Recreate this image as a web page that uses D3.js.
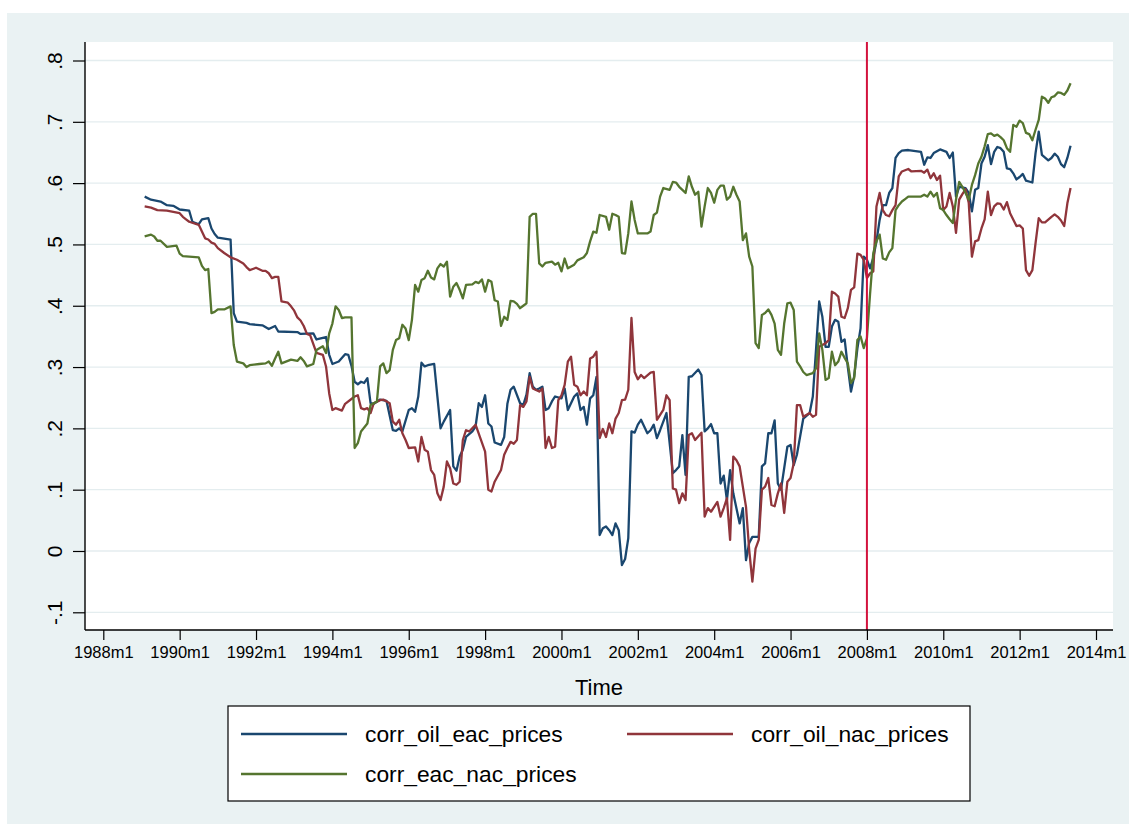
<!DOCTYPE html>
<html>
<head>
<meta charset="utf-8">
<script src="https://cdn.jsdelivr.net/npm/d3@7"></script>
<style>
  body { margin: 0; background: #ffffff; }
  svg { display: block; font-family: "Liberation Sans", Arial, Helvetica, sans-serif; }
</style>
</head>
<body>
<svg id="chart" width="1129" height="829"></svg>
<script>
// ---- data -------------------------------------------------------------
// Monthly rolling correlations, [year, month, value]
const corrOilEac = [
  [1989,2,.578],[1989,4,.573],[1989,7,.570],[1989,9,.564],[1989,11,.563],[1990,1,.557],[1990,4,.555],[1990,5,.537],
  [1990,7,.533],[1990,8,.541],[1990,10,.543],[1990,11,.526],[1990,12,.517],[1991,1,.511],[1991,5,.508],[1991,6,.388],
  [1991,7,.374],[1991,10,.372],[1991,11,.370],[1992,3,.368],[1992,5,.362],[1992,7,.367],[1992,8,.358],[1993,2,.357],
  [1993,3,.354],[1993,7,.355],[1993,8,.345],[1993,11,.349],[1993,12,.320],[1994,1,.305],[1994,3,.309],[1994,5,.321],
  [1994,6,.320],[1994,7,.302],[1994,8,.276],[1994,9,.272],[1994,10,.276],[1994,11,.274],[1994,12,.282],[1995,1,.241],
  [1995,2,.240],[1995,4,.247],[1995,6,.245],[1995,8,.197],[1995,9,.196],[1995,10,.200],[1995,11,.195],[1996,1,.230],
  [1996,2,.233],[1996,3,.227],[1996,4,.252],[1996,5,.307],[1996,6,.301],[1996,7,.303],[1996,9,.305],[1996,10,.252],
  [1996,11,.200],[1996,12,.211],[1997,2,.230],[1997,3,.138],[1997,4,.131],[1997,5,.154],[1997,6,.165],[1997,7,.186],
  [1997,9,.195],[1997,10,.203],[1997,11,.241],[1997,12,.235],[1998,1,.254],[1998,2,.208],[1998,3,.203],[1998,4,.177],
  [1998,6,.173],[1998,7,.186],[1998,8,.240],[1998,9,.263],[1998,10,.268],[1998,12,.241],[1999,1,.238],[1999,2,.255],
  [1999,3,.290],[1999,4,.268],[1999,5,.263],[1999,6,.265],[1999,7,.268],[1999,8,.230],[1999,9,.233],[1999,10,.244],
  [1999,11,.252],[2000,1,.249],[2000,2,.265],[2000,3,.230],[2000,4,.241],[2000,5,.252],[2000,6,.257],[2000,7,.230],
  [2000,8,.235],[2000,9,.206],[2000,10,.249],[2000,11,.254],[2000,12,.284],[2001,1,.026],[2001,2,.037],[2001,3,.040],
  [2001,4,.034],[2001,5,.026],[2001,6,.045],[2001,7,.034],[2001,8,-.023],[2001,9,-.013],[2001,10,.021],[2001,11,.195],
  [2001,12,.193],[2002,1,.206],[2002,2,.214],[2002,4,.192],[2002,5,.197],[2002,6,.206],[2002,7,.184],[2002,8,.197],
  [2002,10,.225],[2002,12,.127],[2003,1,.132],[2003,2,.138],[2003,3,.189],[2003,4,.124],[2003,5,.284],[2003,6,.285],
  [2003,8,.296],[2003,9,.287],[2003,10,.195],[2003,11,.200],[2003,12,.207],[2004,1,.192],[2004,2,.192],[2004,3,.110],
  [2004,4,.123],[2004,5,.083],[2004,6,.132],[2004,7,.094],[2004,9,.045],[2004,10,.070],[2004,11,-.015],[2004,12,.013],
  [2005,1,.023],[2005,3,.023],[2005,4,.138],[2005,5,.143],[2005,6,.192],[2005,7,.192],[2005,8,.213],[2005,9,.110],
  [2005,10,.100],[2005,12,.170],[2006,1,.173],[2006,2,.140],[2006,3,.157],[2006,5,.216],[2006,7,.225],[2006,8,.252],
  [2006,9,.328],[2006,10,.407],[2006,11,.382],[2006,12,.333],[2007,1,.333],[2007,2,.366],[2007,3,.377],[2007,4,.374],
  [2007,5,.341],[2007,6,.345],[2007,7,.300],[2007,8,.260],[2007,9,.285],[2007,10,.330],[2007,11,.363],[2007,12,.480],
  [2008,1,.475],[2008,2,.461],[2008,3,.478],[2008,4,.505],[2008,5,.540],[2008,6,.564],[2008,7,.564],[2008,8,.584],
  [2008,9,.592],[2008,10,.641],[2008,11,.649],[2008,12,.653],[2009,2,.654],[2009,6,.651],[2009,7,.630],[2009,8,.642],
  [2009,9,.641],[2009,10,.649],[2009,12,.655],[2010,2,.651],[2010,3,.641],[2010,4,.650],[2010,5,.578],[2010,6,.594],
  [2010,8,.592],[2010,9,.584],[2010,10,.554],[2010,11,.589],[2010,12,.592],[2011,1,.632],[2011,2,.643],[2011,3,.662],
  [2011,4,.631],[2011,5,.651],[2011,6,.659],[2011,7,.657],[2011,8,.651],[2011,9,.624],[2011,10,.623],[2011,11,.616],
  [2011,12,.606],[2012,1,.610],[2012,2,.615],[2012,3,.604],[2012,5,.601],[2012,6,.649],[2012,7,.684],[2012,8,.646],
  [2012,10,.637],[2012,11,.641],[2012,12,.648],[2013,1,.643],[2013,2,.631],[2013,3,.626],[2013,4,.641],[2013,5,.661]
];

const corrOilNac = [
  [1989,2,.562],[1989,4,.560],[1989,6,.556],[1989,9,.555],[1989,11,.553],[1990,1,.551],[1990,2,.545],[1990,3,.541],
  [1990,4,.537],[1990,7,.532],[1990,8,.521],[1990,9,.510],[1990,10,.508],[1990,11,.503],[1990,12,.501],[1991,1,.494],
  [1991,3,.486],[1991,5,.479],[1991,7,.475],[1991,9,.469],[1991,10,.463],[1991,11,.458],[1991,12,.460],[1992,1,.462],
  [1992,3,.457],[1992,4,.457],[1992,5,.453],[1992,6,.445],[1992,7,.447],[1992,8,.447],[1992,9,.407],[1992,11,.405],
  [1992,12,.399],[1993,1,.392],[1993,2,.381],[1993,3,.376],[1993,4,.367],[1993,5,.354],[1993,6,.352],[1993,8,.323],
  [1993,10,.320],[1993,11,.301],[1993,12,.257],[1994,1,.230],[1994,2,.233],[1994,4,.229],[1994,5,.240],[1994,8,.252],
  [1994,9,.254],[1994,10,.233],[1994,11,.231],[1994,12,.233],[1995,1,.225],[1995,2,.241],[1995,4,.246],[1995,5,.247],
  [1995,7,.241],[1995,8,.211],[1995,9,.206],[1995,10,.214],[1995,11,.192],[1995,12,.181],[1996,1,.168],[1996,3,.169],
  [1996,4,.146],[1996,5,.186],[1996,6,.165],[1996,7,.162],[1996,8,.132],[1996,9,.124],[1996,10,.094],[1996,11,.083],
  [1996,12,.105],[1997,1,.146],[1997,2,.135],[1997,3,.110],[1997,4,.108],[1997,5,.113],[1997,6,.181],[1997,7,.197],
  [1997,8,.195],[1997,10,.206],[1998,1,.162],[1998,2,.100],[1998,3,.097],[1998,4,.113],[1998,6,.132],[1998,7,.157],
  [1998,8,.168],[1998,9,.178],[1998,10,.175],[1998,11,.181],[1998,12,.238],[1999,1,.235],[1999,2,.244],[1999,3,.284],
  [1999,4,.265],[1999,6,.260],[1999,7,.265],[1999,8,.168],[1999,9,.186],[1999,10,.168],[1999,11,.170],[1999,12,.246],
  [2000,1,.254],[2000,2,.271],[2000,3,.309],[2000,4,.317],[2000,5,.271],[2000,6,.268],[2000,7,.254],[2000,8,.260],
  [2000,9,.254],[2000,10,.314],[2000,11,.317],[2000,12,.325],[2001,1,.184],[2001,2,.199],[2001,3,.186],[2001,4,.208],
  [2001,5,.192],[2001,6,.216],[2001,7,.225],[2001,8,.246],[2001,9,.247],[2001,10,.263],[2001,11,.380],[2001,12,.292],
  [2002,1,.280],[2002,2,.287],[2002,3,.282],[2002,5,.291],[2002,6,.292],[2002,7,.214],[2002,8,.222],[2002,9,.230],
  [2002,10,.254],[2002,11,.246],[2002,12,.102],[2003,1,.100],[2003,2,.078],[2003,3,.094],[2003,4,.083],[2003,5,.189],
  [2003,6,.192],[2003,7,.181],[2003,9,.193],[2003,10,.056],[2003,11,.070],[2003,12,.064],[2004,2,.080],[2004,3,.056],
  [2004,4,.070],[2004,5,.086],[2004,6,.018],[2004,7,.154],[2004,8,.148],[2004,9,.138],[2004,10,.105],[2004,11,.072],
  [2004,12,.002],[2005,1,-.050],[2005,2,.004],[2005,3,.018],[2005,4,.100],[2005,5,.105],[2005,6,.119],[2005,7,.075],
  [2005,8,.073],[2005,9,.094],[2005,10,.110],[2005,11,.062],[2005,12,.113],[2006,1,.119],[2006,2,.143],[2006,3,.238],
  [2006,4,.238],[2006,5,.219],[2006,7,.225],[2006,8,.219],[2006,9,.222],[2006,10,.333],[2006,12,.339],[2007,1,.344],
  [2007,2,.423],[2007,3,.420],[2007,4,.415],[2007,5,.382],[2007,6,.380],[2007,7,.396],[2007,8,.426],[2007,9,.430],
  [2007,10,.485],[2007,11,.483],[2007,12,.475],[2008,1,.445],[2008,2,.453],[2008,3,.456],[2008,4,.562],[2008,5,.584],
  [2008,6,.556],[2008,7,.548],[2008,8,.546],[2008,9,.556],[2008,10,.564],[2008,11,.611],[2008,12,.619],[2009,2,.623],
  [2009,3,.619],[2009,6,.620],[2009,7,.617],[2009,8,.622],[2009,9,.608],[2009,10,.616],[2009,11,.605],[2009,12,.612],
  [2010,1,.556],[2010,2,.562],[2010,3,.584],[2010,4,.562],[2010,5,.519],[2010,6,.573],[2010,7,.582],[2010,8,.590],
  [2010,9,.568],[2010,10,.480],[2010,11,.505],[2010,12,.507],[2011,1,.526],[2011,2,.541],[2011,3,.586],[2011,4,.548],
  [2011,5,.562],[2011,6,.567],[2011,7,.566],[2011,8,.557],[2011,9,.569],[2011,10,.551],[2011,12,.530],[2012,1,.531],
  [2012,2,.526],[2012,3,.458],[2012,4,.449],[2012,5,.458],[2012,6,.502],[2012,7,.543],[2012,8,.536],[2012,9,.536],
  [2012,11,.545],[2012,12,.549],[2013,1,.545],[2013,2,.539],[2013,3,.530],[2013,4,.567],[2013,5,.592]
];

const corrEacNac = [
  [1989,2,.513],[1989,4,.516],[1989,5,.513],[1989,6,.506],[1989,7,.506],[1989,9,.496],[1989,12,.498],[1990,1,.485],
  [1990,2,.481],[1990,7,.479],[1990,8,.465],[1990,9,.458],[1990,10,.460],[1990,11,.388],[1990,12,.390],[1991,1,.394],
  [1991,3,.394],[1991,5,.399],[1991,6,.336],[1991,7,.309],[1991,9,.306],[1991,10,.300],[1991,11,.303],[1992,2,.305],
  [1992,4,.306],[1992,5,.309],[1992,6,.302],[1992,7,.314],[1992,8,.325],[1992,9,.306],[1992,12,.312],[1993,2,.310],
  [1993,3,.316],[1993,4,.310],[1993,5,.301],[1993,7,.305],[1993,8,.328],[1993,10,.334],[1993,11,.323],[1993,12,.355],
  [1994,1,.371],[1994,2,.399],[1994,3,.393],[1994,4,.380],[1994,5,.381],[1994,7,.381],[1994,8,.168],[1994,9,.176],
  [1994,10,.195],[1994,12,.208],[1995,1,.238],[1995,3,.244],[1995,4,.301],[1995,5,.306],[1995,6,.290],[1995,7,.295],
  [1995,8,.328],[1995,9,.344],[1995,10,.347],[1995,11,.369],[1995,12,.363],[1996,1,.344],[1996,2,.377],[1996,3,.434],
  [1996,4,.423],[1996,5,.442],[1996,6,.445],[1996,7,.457],[1996,8,.446],[1996,9,.443],[1996,10,.461],[1996,11,.468],
  [1996,12,.464],[1997,1,.472],[1997,2,.415],[1997,3,.431],[1997,4,.437],[1997,5,.426],[1997,6,.412],[1997,7,.434],
  [1997,9,.435],[1997,10,.439],[1997,11,.437],[1997,12,.443],[1998,1,.423],[1998,2,.442],[1998,3,.439],[1998,4,.409],
  [1998,5,.407],[1998,6,.367],[1998,7,.382],[1998,8,.377],[1998,9,.408],[1998,10,.407],[1998,11,.403],[1998,12,.396],
  [1999,1,.400],[1999,2,.404],[1999,3,.545],[1999,4,.550],[1999,5,.550],[1999,6,.469],[1999,7,.464],[1999,8,.470],
  [1999,10,.472],[1999,11,.467],[1999,12,.470],[2000,1,.456],[2000,2,.477],[2000,3,.461],[2000,4,.464],[2000,5,.467],
  [2000,6,.474],[2000,8,.479],[2000,9,.486],[2000,10,.505],[2000,11,.521],[2000,12,.519],[2001,1,.548],[2001,3,.545],
  [2001,4,.524],[2001,5,.550],[2001,6,.548],[2001,7,.545],[2001,8,.486],[2001,9,.485],[2001,10,.518],[2001,11,.570],
  [2001,12,.540],[2002,1,.518],[2002,4,.518],[2002,5,.521],[2002,6,.548],[2002,7,.552],[2002,8,.578],[2002,9,.592],
  [2002,11,.589],[2002,12,.602],[2003,1,.601],[2003,2,.594],[2003,4,.584],[2003,5,.611],[2003,6,.594],[2003,7,.581],
  [2003,8,.586],[2003,9,.529],[2003,10,.562],[2003,11,.592],[2003,12,.584],[2004,1,.568],[2004,2,.589],[2004,3,.596],
  [2004,4,.596],[2004,5,.573],[2004,6,.578],[2004,7,.594],[2004,8,.581],[2004,9,.570],[2004,10,.507],[2004,11,.518],
  [2004,12,.480],[2005,1,.464],[2005,2,.339],[2005,3,.331],[2005,4,.385],[2005,5,.388],[2005,6,.394],[2005,7,.385],
  [2005,8,.371],[2005,9,.328],[2005,10,.320],[2005,11,.371],[2005,12,.404],[2006,1,.405],[2006,2,.393],[2006,3,.309],
  [2006,4,.301],[2006,5,.292],[2006,6,.287],[2006,8,.290],[2006,9,.298],[2006,10,.355],[2006,11,.328],[2006,12,.279],
  [2007,1,.282],[2007,2,.325],[2007,3,.303],[2007,4,.309],[2007,5,.325],[2007,6,.315],[2007,7,.306],[2007,8,.274],
  [2007,9,.282],[2007,10,.344],[2007,11,.350],[2007,12,.331],[2008,1,.347],[2008,2,.420],[2008,3,.486],[2008,4,.505],
  [2008,5,.516],[2008,6,.477],[2008,7,.475],[2008,8,.487],[2008,9,.494],[2008,10,.556],[2008,11,.564],[2008,12,.570],
  [2009,1,.574],[2009,2,.578],[2009,6,.578],[2009,7,.581],[2009,8,.578],[2009,9,.586],[2009,10,.578],[2009,11,.584],
  [2009,12,.559],[2010,1,.556],[2010,2,.548],[2010,3,.541],[2010,4,.535],[2010,5,.573],[2010,6,.602],[2010,7,.594],
  [2010,8,.584],[2010,9,.573],[2010,10,.597],[2010,11,.613],[2010,12,.632],[2011,1,.643],[2011,2,.660],[2011,3,.680],
  [2011,4,.681],[2011,5,.677],[2011,6,.679],[2011,7,.675],[2011,8,.670],[2011,9,.657],[2011,10,.651],[2011,11,.695],
  [2011,12,.692],[2012,1,.702],[2012,2,.698],[2012,3,.682],[2012,4,.680],[2012,5,.670],[2012,6,.687],[2012,7,.703],
  [2012,8,.741],[2012,9,.738],[2012,10,.731],[2012,11,.740],[2012,12,.742],[2013,1,.748],[2013,2,.747],[2013,3,.744],
  [2013,4,.751],[2013,5,.763]
];

const seriesNames = ["corr_oil_eac_prices", "corr_oil_nac_prices", "corr_eac_nac_prices"];
const xTickLabels = ["1988m1","1990m1","1992m1","1994m1","1996m1","1998m1","2000m1",
                     "2002m1","2004m1","2006m1","2008m1","2010m1","2012m1","2014m1"];
const yTickValues = [-0.1, 0, 0.1, 0.2, 0.3, 0.4, 0.5, 0.6, 0.7, 0.8];
const yTickLabels = ["-.1", "0", ".1", ".2", ".3", ".4", ".5", ".6", ".7", ".8"];
const xAxisTitle = "Time";
const eventLine = "2008m1";

// ---- helpers ----------------------------------------------------------
const BASE_YEAR = 1988;
const monthIndex = (yr, mo) => (yr - BASE_YEAR) * 12 + (mo - 1);
const parseTm = s => { const [yr, mo] = s.split("m").map(Number); return monthIndex(yr, mo); };

// ---- layout -----------------------------------------------------------
const W = 1129, H = 829;
const plot = { left: 85, right: 1113, top: 42, bottom: 630 };
const colors = ["#1a476f", "#90353b", "#55752f"];
const font = "'Liberation Sans', Arial, Helvetica, sans-serif";

const svg = d3.select("#chart");

// graph region
svg.append("rect").attr("x", 0).attr("y", 0).attr("width", W).attr("height", H).attr("fill", "#ffffff");
svg.append("rect").attr("x", 7).attr("y", 13).attr("width", W - 7).attr("height", 811).attr("fill", "#eaf2f3");

// plot region
svg.append("rect")
  .attr("x", plot.left).attr("y", plot.top)
  .attr("width", plot.right - plot.left).attr("height", plot.bottom - plot.top)
  .attr("fill", "#ffffff");

const x = d3.scaleLinear().domain([parseTm("1988m1"), parseTm("2014m1")]).range([103.3, 1096]);
const y = d3.scaleLinear().domain([-0.1, 0.8]).range([612.3, 60.5]);

// horizontal grid
svg.append("g").selectAll("line").data(yTickValues).join("line")
  .attr("x1", plot.left).attr("x2", plot.right)
  .attr("y1", d => y(d)).attr("y2", d => y(d))
  .attr("stroke", "#e4edef").attr("stroke-width", 1.3);

// series
const line = d3.line().x(d => x(monthIndex(d[0], d[1]))).y(d => y(d[2]));
const allSeries = [corrOilEac, corrOilNac, corrEacNac];
svg.append("g").selectAll("path").data(allSeries).join("path")
  .attr("d", d => line(d))
  .attr("fill", "none")
  .attr("stroke", (d, i) => colors[i])
  .attr("stroke-width", 2.3)
  .attr("stroke-linejoin", "round");

// reference line
svg.append("line")
  .attr("x1", x(parseTm(eventLine))).attr("x2", x(parseTm(eventLine)))
  .attr("y1", plot.top).attr("y2", plot.bottom)
  .attr("stroke", "#d3123d").attr("stroke-width", 2);

// y axis
const yAxis = d3.axisLeft(y).tickValues(yTickValues).tickSize(12)
  .tickFormat((d, i) => yTickLabels[i]);
const gy = svg.append("g").attr("transform", `translate(${plot.left},0)`).call(yAxis);
gy.select(".domain").remove();
gy.selectAll(".tick line").attr("stroke", "#000").attr("stroke-width", 1.2);
gy.selectAll(".tick text")
  .attr("x", null).attr("dy", null)
  .attr("transform", "translate(-23,0) rotate(-90)")
  .attr("text-anchor", "middle")
  .attr("fill", "#000")
  .style("font-family", font).style("font-size", "21px");
svg.append("line").attr("x1", plot.left).attr("x2", plot.left)
  .attr("y1", plot.top).attr("y2", plot.bottom)
  .attr("stroke", "#000").attr("stroke-width", 1.4);

// x axis
const xAxis = d3.axisBottom(x).tickValues(xTickLabels.map(parseTm)).tickSize(10).tickPadding(6)
  .tickFormat((d, i) => xTickLabels[i]);
const gx = svg.append("g").attr("transform", `translate(0,${plot.bottom})`).call(xAxis);
gx.select(".domain").remove();
gx.selectAll(".tick line").attr("stroke", "#000").attr("stroke-width", 1.2);
gx.selectAll(".tick text").attr("fill", "#000")
  .style("font-family", font).style("font-size", "16.5px");
svg.append("line").attr("x1", plot.left).attr("x2", plot.right)
  .attr("y1", plot.bottom).attr("y2", plot.bottom)
  .attr("stroke", "#000").attr("stroke-width", 1.4);

svg.append("text")
  .attr("x", (plot.left + plot.right) / 2).attr("y", 695)
  .attr("text-anchor", "middle")
  .style("font-family", font).style("font-size", "22px")
  .text(xAxisTitle);

// legend
const lg = svg.append("g");
lg.append("rect").attr("x", 228).attr("y", 706).attr("width", 742).attr("height", 95)
  .attr("fill", "#ffffff").attr("stroke", "#000").attr("stroke-width", 1.2);
const legendPos = [[241, 734], [627, 734], [241, 774]];
seriesNames.forEach((name, i) => {
  const [lx, ly] = legendPos[i];
  lg.append("line").attr("x1", lx).attr("x2", lx + 106).attr("y1", ly).attr("y2", ly)
    .attr("stroke", colors[i]).attr("stroke-width", 2.4);
  lg.append("text").attr("x", lx + 124).attr("y", ly + 8)
    .style("font-family", font).style("font-size", "22.8px")
    .text(name);
});
</script>
</body>
</html>
